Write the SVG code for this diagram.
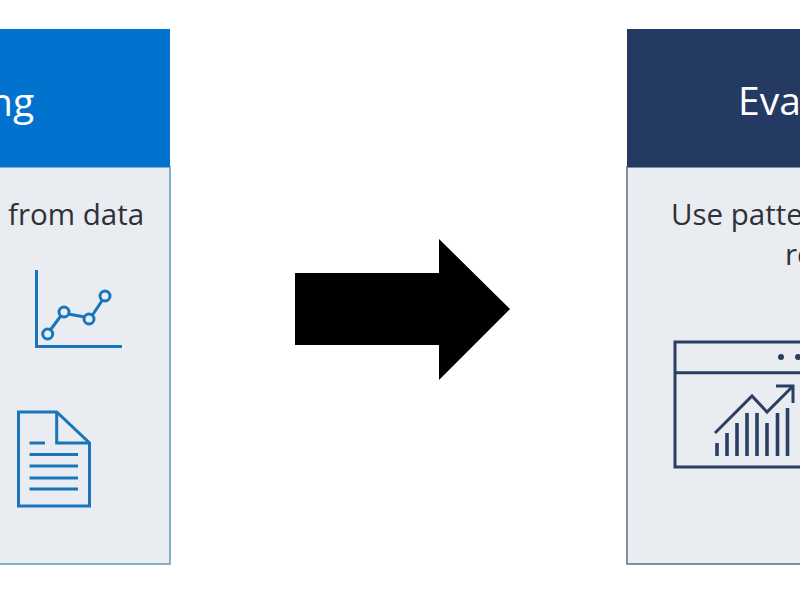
<svg xmlns="http://www.w3.org/2000/svg" width="800" height="600" viewBox="0 0 800 600">
<style>
text{font-family:"Open Sans","Noto Sans","Liberation Sans",sans-serif}
.h{font-size:39px;fill:#fff}
.b{font-size:29.500px;fill:#2e3138}
.bi{fill:none;stroke:#1b75bb;stroke-width:3}
.di{fill:none;stroke:#2b3f63;stroke-width:3}
.bar{fill:none;stroke:#2b3f63;stroke-width:3.600}
</style>
<rect width="800" height="600" fill="#fff"/>
<g id="left-panel">
<rect x="-5" y="167" width="175" height="397" fill="#e9ecf0" stroke="#5e9cbf" stroke-width="1.500"/>
<rect x="-5" y="29" width="175" height="138" fill="#0173cf"/>
<text class="h" x="-11" y="116">ng</text>
<text class="b" x="8" y="225">from data</text>
<g id="chart-icon" class="bi">
<path d="M36.500 270V346.500H122"/>
<path d="M50 330.500L61.500 315M68 314L85 317M92.500 315L102.500 300"/>
<circle cx="47.700" cy="334" r="5"/>
<circle cx="64" cy="312" r="5"/>
<circle cx="89" cy="319" r="5"/>
<circle cx="105" cy="296" r="5"/>
</g>
<g id="document-icon" class="bi">
<path d="M18.500 412H56.700L89.500 443V506H18.500Z"/>
<path d="M56.700 412V443H89.500"/>
<path d="M29.500 443H45M29.500 454.500H78M29.500 466H78M29.500 478H78M29.500 489H78"/>
</g>
</g>
<g id="connectors">
<polygon points="295,273 439,273 439,239 510,309 439,380 439,345 295,345" fill="#000"/>
</g>
<g id="right-panel">
<rect x="627" y="167" width="178" height="397" fill="#e9ecf0" stroke="#5f6c80" stroke-width="1.500"/>
<rect x="627" y="29" width="178" height="138" fill="#243a63"/>
<text class="h" x="738" y="115">Eva</text>
<text class="b" x="671" y="225">Use patte</text>
<text class="b" x="785" y="265">re</text>
<g id="window-icon" class="di">
<path d="M805 342H675V467H805M675 372.700H805"/>
<circle cx="781" cy="357" r="3" fill="#2b3f63" stroke="none"/>
<circle cx="798" cy="357" r="3" fill="#2b3f63" stroke="none"/>
<path class="bar" d="M717 443V456M727 433V456M737 423V456M747 413V456M757 413V456M767 423V456M777.500 413V456M787.500 408V456"/>
<path d="M715 433L752 396L767 412L792 387M776 386H793V403"/>
</g>
</g>
</svg>
